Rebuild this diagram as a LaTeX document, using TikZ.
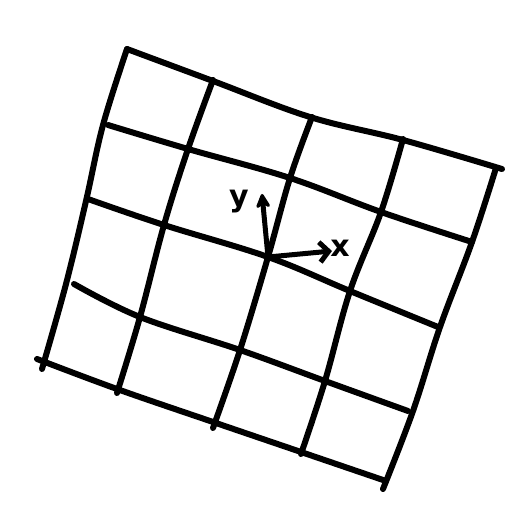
\documentclass[tikz,border=0pt]{standalone}
\usepackage{fontspec}
\setmainfont{DejaVu Sans}
\usetikzlibrary{arrows.meta}
\begin{document}
\begin{tikzpicture}[x=1pt,y=-1pt,
  pen/.style={line width=6pt,line cap=round,line join=round,black},
  axis/.style={line width=5pt,line cap=round,black},
  lbl/.style={font=\fontsize{30}{30}\selectfont\bfseries,inner sep=0pt}]
\useasboundingbox (0,0) rectangle (531,529);
% horizontal strokes
\draw[pen] plot[smooth,tension=0.6] coordinates {(127,49) (213,81) (310,117) (403,140) (502,169)};
\draw[pen] plot[smooth,tension=0.6] coordinates {(108,125) (188,149) (290,178) (381,212) (472,242)};
\draw[pen] plot[smooth,tension=0.6] coordinates {(88,199) (164,225) (268,257) (350,291) (438,327)};
\draw[pen] plot[smooth,tension=0.6] coordinates {(74,284) (140,317) (240,350) (325,381) (408,411)};
\draw[pen] plot[smooth,tension=0.6] coordinates {(37,359) (117,389) (213,422) (301,452) (386,481)};
% vertical strokes
\draw[pen] plot[smooth,tension=0.6] coordinates {(127,49) (103,125) (86,201) (66,284) (42,369)};
\draw[pen] plot[smooth,tension=0.6] coordinates {(213,80) (188,149) (164,225) (140,317) (117,393)};
\draw[pen] plot[smooth,tension=0.6] coordinates {(312,117) (290,178) (268,257) (240,350) (213,428)};
\draw[pen] plot[smooth,tension=0.6] coordinates {(403,139) (381,212) (350,291) (325,381) (301,454)};
\draw[pen] plot[smooth,tension=0.6] coordinates {(496,168) (472,242) (440,327) (413,411) (383,489)};
% axes
\coordinate (o) at (268,257);
\coordinate (ytip) at (262,194);
\coordinate (xtip) at (332,251);
\draw[axis,-{Stealth[length=18pt,width=18pt,round]}] (o) -- (ytip);
\draw[axis,-{Straight Barb[length=9pt,width=20pt]}] (o) -- (xtip);
\node[lbl] (ylab) at (239,202) {y};
\node[lbl] (xlab) at (340,248) {x};
\end{tikzpicture}
\end{document}
